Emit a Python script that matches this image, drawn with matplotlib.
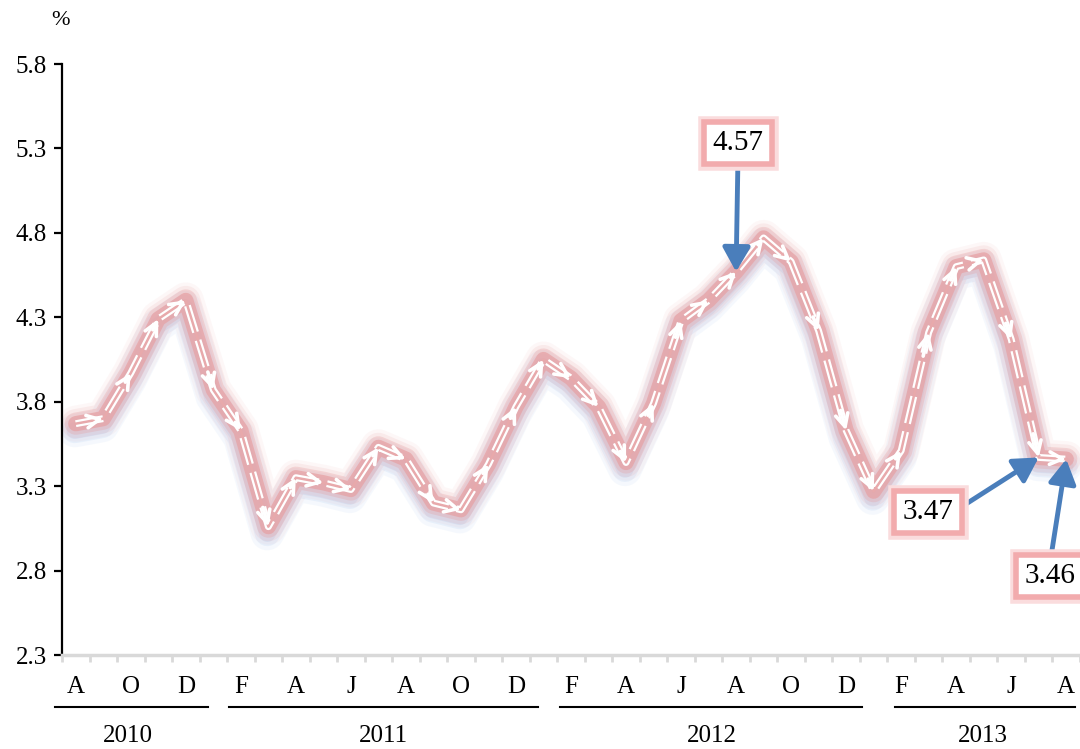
import numpy as np
import matplotlib
matplotlib.use("Agg")
import matplotlib.pyplot as plt
import matplotlib.patheffects as pe
from matplotlib import transforms

plt.rcParams['font.family'] = ['Liberation Serif', 'DejaVu Serif']

# monthly rate, Aug 2010 .. Aug 2013
rate = [3.67, 3.70, 3.97, 4.29, 4.40,
        3.87, 3.63, 3.06, 3.35, 3.32, 3.28, 3.53, 3.46, 3.20, 3.16, 3.43, 3.77,
        4.05, 3.94, 3.77, 3.44, 3.79, 4.28, 4.40, 4.57, 4.77, 4.63, 4.22, 3.63,
        3.27, 3.51, 4.21, 4.60, 4.64, 4.17, 3.47, 3.46]
month_labels = ["A", "O", "D", "F", "A", "J", "A", "O", "D",
                "F", "A", "J", "A", "O", "D", "F", "A", "J", "A"]
years = ["2010", "2011", "2012", "2013"]
yticks = [2.3, 2.8, 3.3, 3.8, 4.3, 4.8, 5.3, 5.8]

# callouts: (month index, label)
callouts = [(24, "4.57"), (35, "3.47"), (36, "3.46")]

x = np.arange(len(rate))
y = np.array(rate)

fig = plt.figure(figsize=(10.8, 7.49), dpi=100)
ax = fig.add_axes([0.0574, 0.1255, 0.9426, 0.789])
ax.set_xlim(-0.5, len(rate) - 0.5)
ax.set_ylim(2.3, 5.8)

# bluish soft shadow below the line
shadow = transforms.offset_copy(ax.transData, fig=fig, x=-1, y=-7, units='dots')
for lw, a in [(24, 0.12), (18, 0.2), (12, 0.3)]:
    ax.plot(x, y, color='#b3cdef', lw=lw, alpha=a, transform=shadow,
            solid_joinstyle='round', solid_capstyle='round')

# pink glow
for lw, a in [(26, 0.08), (21, 0.15), (16, 0.32), (11, 0.7)]:
    ax.plot(x, y, color='#e6a0a3', lw=lw, alpha=a,
            solid_joinstyle='round', solid_capstyle='round')

# white double dashed core
ax.plot(x, y, color='white', lw=5, ls=(0, (4, 1.2)))
ax.plot(x, y, color='#e8a9ab', lw=1.8)

# open arrow heads at each point
for i in range(1, len(x)):
    ax.annotate('', xy=(x[i], y[i]),
                xytext=(x[i] - 0.2 * (x[i] - x[i - 1]), y[i] - 0.2 * (y[i] - y[i - 1])),
                arrowprops=dict(arrowstyle='->,head_length=0.9,head_width=0.45',
                                color='white', lw=2.6, shrinkA=0, shrinkB=0))

# callout boxes with blue arrows
box_pos = {24: (738, 606), 35: (928, 237), 36: (1050, 173)}
rel = {24: (0.5, 0.0), 35: (1.0, 0.5), 36: (0.5, 1.0)}
for idx, lab in callouts:
    t = ax.annotate(lab, xy=(x[idx], float(lab)), xytext=box_pos[idx],
                    textcoords='figure pixels', ha='center', va='center',
                    fontsize=21, color='black',
                    bbox=dict(boxstyle='square,pad=0.28', fc='white',
                              ec='#f2abad', lw=4),
                    arrowprops=dict(arrowstyle='-|>,head_length=0.7,head_width=0.4',
                                    color='#4a7ebb', lw=3.5, relpos=rel[idx],
                                    shrinkA=0, shrinkB=0),
                    zorder=5)
    t.get_bbox_patch().set_path_effects([
        pe.Stroke(linewidth=9, foreground='#fadcdd'), pe.Normal()])

# axes styling
for s in ['top', 'right']:
    ax.spines[s].set_visible(False)
ax.spines['left'].set_linewidth(1.6)
ax.spines['bottom'].set_color('#d9d9d9')
ax.spines['bottom'].set_linewidth(2.5)

ax.set_yticks(yticks)
ax.set_yticklabels([f"{v:.1f}" for v in yticks])
ax.tick_params(axis='y', direction='out', length=6, width=1.6, labelsize=18, pad=5)

ax.set_xticks(x[::2])
ax.set_xticklabels(month_labels)
ax.set_xticks(np.arange(-0.5, len(rate), 1), minor=True)
ax.tick_params(axis='x', which='major', length=0, labelsize=18, pad=15)
ax.tick_params(axis='x', which='minor', length=5, width=2, color='#d9d9d9')

# year underlines and labels
tr = transforms.blended_transform_factory(ax.transData, fig.transFigure)
year_spans = [(-0.75, 4.8), (5.57, 16.8), (17.6, 28.58), (29.78, 36.32)]
year_x = [1.9, 11.17, 23.13, 32.98]
for (a, b), yx, yr in zip(year_spans, year_x, years):
    ax.plot([a, b], [0.056, 0.056], color='black', lw=1.5, transform=tr, clip_on=False)
    ax.text(yx, 0.018, yr, transform=tr, ha='center', va='center', fontsize=18)

fig.text(0.056, 0.972, "%", ha='center', va='center', fontsize=16)

fig.savefig("out.png", dpi=100)
